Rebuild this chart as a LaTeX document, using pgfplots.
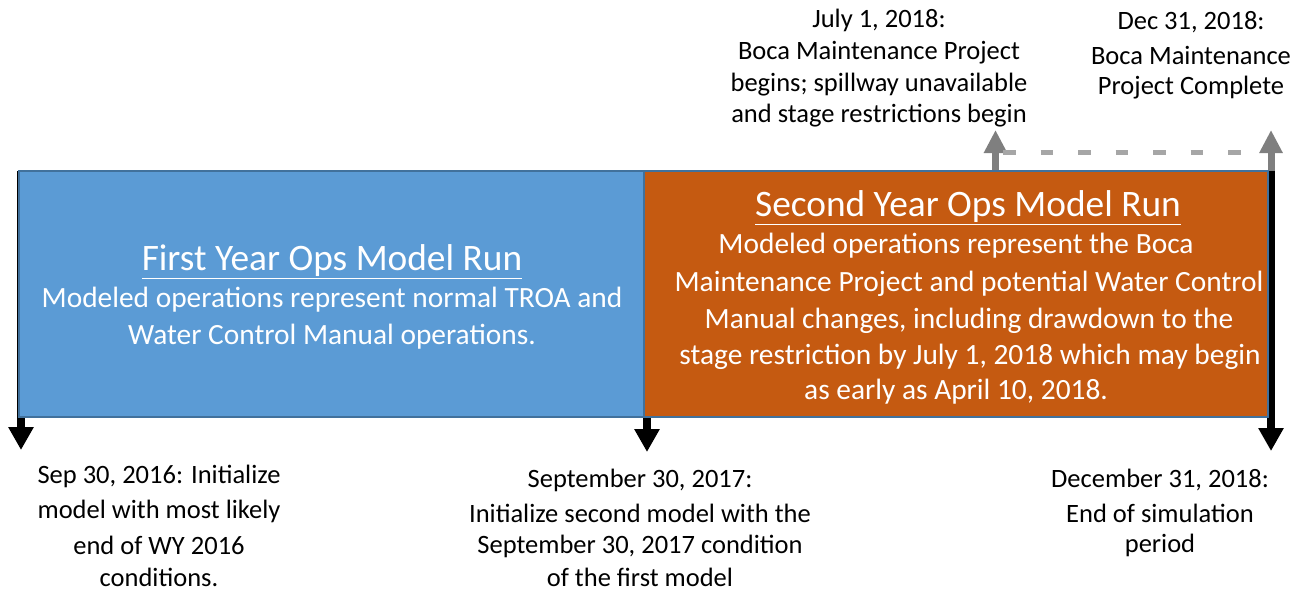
\documentclass[border=0pt]{standalone}
\usepackage{pgfplots}
\pgfplotsset{compat=1.18}
\usepackage{fontspec}
\setmainfont{Carlito}
\usetikzlibrary{arrows.meta}
\definecolor{boxblue}{RGB}{91,155,213}
\definecolor{boxorange}{RGB}{197,90,17}
\definecolor{edgeblue}{RGB}{65,113,156}
\definecolor{arrgrey}{RGB}{127,127,127}
\definecolor{dashgrey}{RGB}{166,166,166}
\tikzset{
  lbl/.style={font=\fontsize{26.6}{32}\selectfont, anchor=center, inner sep=0pt, text=black},
  bx/.style={font=\fontsize{29.5}{35}\selectfont, anchor=center, inner sep=0pt, text=white},
  ttl/.style={font=\fontsize{37.5}{44}\selectfont, anchor=center, inner sep=0pt, text=white},
}
\begin{document}
\begin{tikzpicture}
\begin{axis}[hide axis, scale only axis, width=1309bp, height=592bp,
  xmin=0, xmax=1309, ymin=0, ymax=592, y dir=reverse, clip=false]
% arrows (behind boxes)
\addplot[black, line width=8bp, -{Triangle[length=23bp,width=24bp]}] coordinates {(21,171) (21,450)};
\addplot[black, line width=8bp, -{Triangle[length=23bp,width=24bp]}] coordinates {(647,300) (647,452)};
\addplot[black, line width=8bp, -{Triangle[length=23bp,width=24bp]}] coordinates {(1271,171) (1271,451)};
\addplot[arrgrey, line width=7bp, -{Triangle[length=23bp,width=22bp]}] coordinates {(995.5,171) (995.5,130)};
\addplot[arrgrey, line width=7bp, -{Triangle[length=23bp,width=22bp]}] coordinates {(1271,171) (1271,130)};
\addplot[dashgrey, line width=5bp, dash pattern=on 12.5bp off 25bp] coordinates {(1003,152) (1265,152)};
% boxes
\addplot[fill=boxblue, draw=edgeblue, line width=2bp, line join=miter] coordinates {(19,171) (644,171) (644,417) (19,417)} -- cycle;
\addplot[fill=boxorange, draw=edgeblue, line width=2bp, line join=miter] coordinates {(644,171) (1268,171) (1268,417) (644,417)} -- cycle;
% box texts
\node[ttl] at (axis cs:332,262) {\underline{First Year Ops Model Run}};
\node[bx] at (axis cs:332,300) {Modeled operations represent normal TROA and};
\node[bx] at (axis cs:332,337) {Water Control Manual operations.};
\node[ttl] at (axis cs:968,208) {\underline{Second Year Ops Model Run}};
\node[bx] at (axis cs:956,246) {Modeled operations represent the Boca};
\node[bx] at (axis cs:969,284) {Maintenance Project and potential Water Control};
\node[bx] at (axis cs:969,321) {Manual changes, including drawdown to the};
\node[bx] at (axis cs:970,357) {stage restriction by July 1, 2018 which may begin};
\node[bx] at (axis cs:956,392) {as early as April 10, 2018.};
% top labels
\node[lbl] at (axis cs:879,20) {July 1, 2018:};
\node[lbl] at (axis cs:879,53) {Boca Maintenance Project};
\node[lbl] at (axis cs:879,85) {begins; spillway unavailable};
\node[lbl] at (axis cs:879,116) {and stage restrictions begin};
\node[lbl] at (axis cs:1191,22) {Dec 31, 2018:};
\node[lbl] at (axis cs:1191,55) {Boca Maintenance};
\node[lbl] at (axis cs:1191,88) {Project Complete};
% bottom labels
\node[lbl] at (axis cs:159,476) {Sep 30, 2016: Initialize};
\node[lbl] at (axis cs:159,511) {model with most likely};
\node[lbl] at (axis cs:159,545) {end of WY 2016};
\node[lbl] at (axis cs:159,577) {conditions.};
\node[lbl] at (axis cs:640,480) {September 30, 2017:};
\node[lbl] at (axis cs:640,513) {Initialize second model with the};
\node[lbl] at (axis cs:640,546) {September 30, 2017 condition};
\node[lbl] at (axis cs:640,577) {of the first model};
\node[lbl] at (axis cs:1160,480) {December 31, 2018:};
\node[lbl] at (axis cs:1160,513) {End of simulation};
\node[lbl] at (axis cs:1160,545) {period};
\end{axis}
\pgfresetboundingbox
\path (current axis.south west) rectangle (current axis.north east);
\end{tikzpicture}
\end{document}
